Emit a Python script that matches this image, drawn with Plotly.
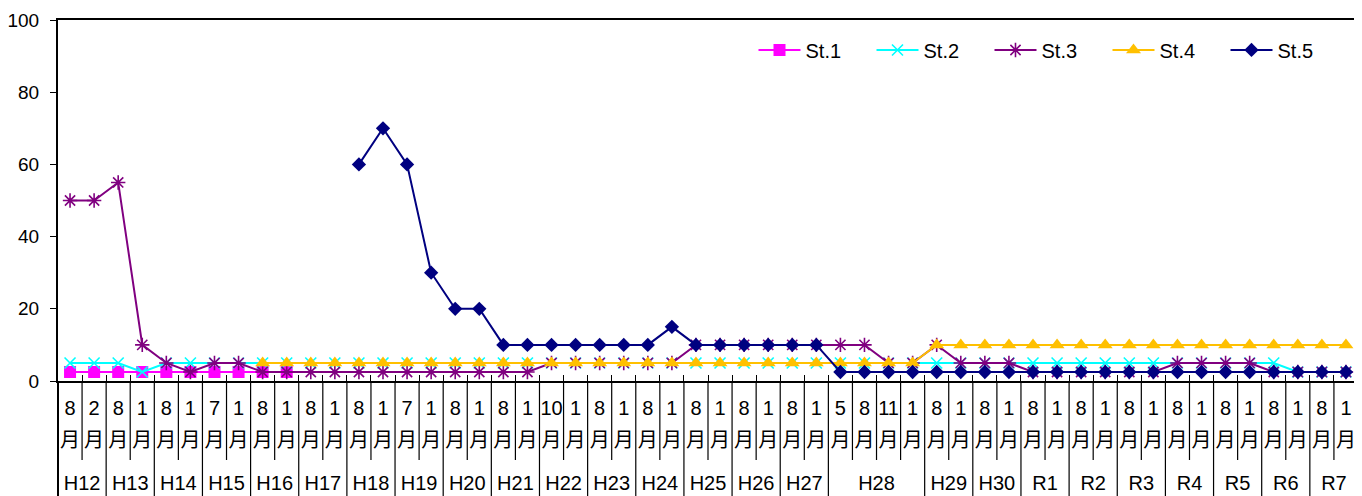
import plotly.graph_objects as go

# ---- data ----
year_labels = ["H12", "H12", "H13", "H13", "H14", "H14", "H15", "H15", "H16", "H16",
               "H17", "H17", "H18", "H18", "H19", "H19", "H20", "H20", "H21", "H21",
               "H22", "H22", "H23", "H23", "H24", "H24", "H25", "H25", "H26", "H26",
               "H27", "H27", "H28", "H28", "H28", "H28", "H29", "H29", "H30", "H30",
               "R1", "R1", "R2", "R2", "R3", "R3", "R4", "R4", "R5", "R5",
               "R6", "R6", "R7", "R7"]
month_labels = ["8", "2", "8", "1", "8", "1", "7", "1", "8", "1",
                "8", "1", "8", "1", "7", "1", "8", "1", "8", "1",
                "10", "1", "8", "1", "8", "1", "8", "1", "8", "1",
                "8", "1", "5", "8", "11", "1", "8", "1", "8", "1",
                "8", "1", "8", "1", "8", "1", "8", "1", "8", "1",
                "8", "1", "8", "1"]

N = None
st1 = [2.5, 2.5, 2.5, 2.5, 2.5, 2.5, 2.5, 2.5, 2.5, 2.5] + [N] * 44
st2 = [5, 5, 5, 2.5, 5, 5, 5, 5, 5, 5,
       5, 5, 5, 5, 5, 5, 5, 5, 5, 5,
       5, 5, 5, 5, 5, 5, 5, 5, 5, 5,
       5, 5, 5, 5, 5, 5, 5, 5, 5, 5,
       5, 5, 5, 5, 5, 5, 5, 5, 5, 5,
       5, 2.5, 2.5, 2.5]
st3 = [50, 50, 55, 10, 5, 2.5, 5, 5, 2.5, 2.5,
       2.5, 2.5, 2.5, 2.5, 2.5, 2.5, 2.5, 2.5, 2.5, 2.5,
       5, 5, 5, 5, 5, 5, 10, 10, 10, 10,
       10, 10, 10, 10, 5, 5, 10, 5, 5, 5,
       2.5, 2.5, 2.5, 2.5, 2.5, 2.5, 5, 5, 5, 5,
       2.5, 2.5, 2.5, 2.5]
st4 = [N] * 8 + [5] * 28 + [10] * 18
st5 = [N] * 12 + [60, 70, 60, 30, 20, 20, 10, 10,
                  10, 10, 10, 10, 10, 15, 10, 10, 10, 10,
                  10, 10, 2.5, 2.5, 2.5, 2.5, 2.5, 2.5, 2.5, 2.5,
                  2.5, 2.5, 2.5, 2.5, 2.5, 2.5, 2.5, 2.5, 2.5, 2.5,
                  2.5, 2.5, 2.5, 2.5]

series_names = ["St.1", "St.2", "St.3", "St.4", "St.5"]
series_values = [st1, st2, st3, st4, st5]

# ---- styles ----
colors = ["#FF00FF", "#00FFFF", "#800080", "#FFC000", "#000080"]
symbols = ["square", "x-thin", "asterisk", "triangle-up", "diamond"]
sizes = [12, 11, 12, 13, 11]
FONT_LAT = "Liberation Sans"
FONT_CJK = "Noto Sans CJK JP"
FS = 20

# page body has an 8px default margin, so the figure is sized to fit the window
W, H = 1354, 488
ML, MR, MT, MB = 50, 4, 12, 115

cats = [f"{y}-{m}" for y, m in zip(year_labels, month_labels)]
n = len(cats)

fig = go.Figure()
for name, vals, col, sym, sz in zip(series_names, series_values, colors, symbols, sizes):
    line_sym = sym in ("x-thin", "asterisk")
    fig.add_trace(go.Scatter(
        x=cats, y=vals, name=name, mode="lines+markers",
        line=dict(color=col, width=2),
        marker=dict(symbol=sym, size=sz, color=col,
                    line=dict(color=col, width=1.6 if line_sym else 0)),
    ))

# year group centres and boundaries (derived from the data arrays)
groups = []
for i, y in enumerate(year_labels):
    if not groups or groups[-1][0] != y:
        groups.append([y, i, i])
    else:
        groups[-1][2] = i
group_centres = [(a + b) / 2 for _, a, b in groups]
group_names = [g[0] for g in groups]

plot_h = H - MT - MB
shapes = []
for i in range(n - 1):
    long_line = year_labels[i] != year_labels[i + 1]
    if long_line:
        shapes.append(dict(type="line", xref="x3", yref="paper",
                           x0=i + 0.5, x1=i + 0.5, y0=0, y1=-(MB + 10) / plot_h,
                           line=dict(color="black", width=1.2)))
    else:
        shapes.append(dict(type="line", xref="x2", yref="paper",
                           x0=i + 0.5, x1=i + 0.5, y0=0, y1=-79 / plot_h,
                           line=dict(color="black", width=1.2)))
shapes.append(dict(type="line", xref="paper", yref="paper",
                   x0=0, x1=0, y0=0, y1=-(MB + 10) / plot_h,
                   line=dict(color="black", width=2)))

fig.update_layout(
    width=W, height=H,
    margin=dict(l=ML, r=MR, t=MT, b=MB, autoexpand=False),
    paper_bgcolor="white", plot_bgcolor="white",
    font=dict(family=FONT_LAT, size=FS, color="black"),
    showlegend=True,
    legend=dict(orientation="h", x=0.535, y=0.917, xanchor="left", yanchor="middle",
                font=dict(family=FONT_LAT, size=FS, color="black"),
                bgcolor="rgba(0,0,0,0)", entrywidth=61, entrywidthmode="pixels",
                itemwidth=42),
    xaxis=dict(type="category", categoryorder="array", categoryarray=cats,
               tickmode="array", tickvals=cats, ticktext=month_labels,
               range=[-0.5, n - 0.5], ticks="inside", tickson="boundaries",
               ticklen=6, tickcolor="black", tickwidth=1,
               showline=True, linecolor="black", linewidth=2, mirror=True,
               showgrid=False, zeroline=False, automargin=False,
               ticklabeloverflow="allow",
               tickfont=dict(family=FONT_LAT, size=FS, color="black"),
               ticklabelstandoff=8, tickangle=0),
    xaxis2=dict(overlaying="x", anchor="y", side="bottom", type="linear",
                range=[-0.5, n - 0.5], tickmode="array",
                tickvals=list(range(n)), ticktext=["月"] * n,
                ticks="", showline=False, showgrid=False, zeroline=False,
                automargin=False, ticklabeloverflow="allow",
                tickfont=dict(family=FONT_CJK, size=FS, color="black"),
                ticklabelstandoff=45, tickangle=0),
    xaxis3=dict(overlaying="x", anchor="y", side="bottom", type="linear",
                range=[-0.5, n - 0.5], tickmode="array",
                tickvals=group_centres, ticktext=group_names,
                ticks="", showline=False, showgrid=False, zeroline=False,
                automargin=False, ticklabeloverflow="allow",
                tickfont=dict(family=FONT_LAT, size=FS, color="black"),
                ticklabelstandoff=88, tickangle=0),
    yaxis=dict(range=[0, 100], dtick=20, tick0=0, ticks="outside", ticklen=6,
               tickcolor="black", showline=True, linecolor="black", linewidth=2,
               mirror=True, showgrid=False, zeroline=False, automargin=False,
               ticklabeloverflow="allow",
               tickfont=dict(family=FONT_LAT, size=19, color="black"),
               ticklabelstandoff=7),
    shapes=shapes,
)

fig.write_html("out.html")
